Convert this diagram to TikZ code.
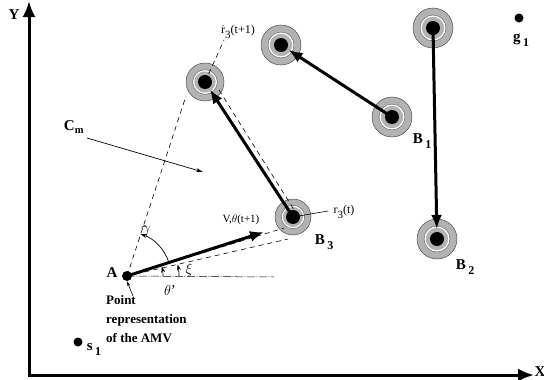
\documentclass[tikz,border=0pt]{standalone}
\usepackage{fontspec}
\setmainfont{Liberation Serif}
\usetikzlibrary{arrows.meta}
\newcommand\obstring[2]{%
  \fill[gray!60] (#1) circle[radius=#2pt];
  \draw[black!70,line width=0.5pt] (#1) circle[radius=#2pt];
  \draw[white,line width=1.3pt] (#1) circle[radius=0.6*#2pt];
  \draw[black!60,line width=0.4pt] (#1) circle[radius=0.65*#2pt];
}
\newcommand\lowsub[1]{\,\raisebox{-5pt}{\fontsize{12}{12}\selectfont #1}}
\newcommand\rsub[1]{\raisebox{-5pt}{\fontsize{11}{11}\selectfont #1}}
\begin{document}
\begin{tikzpicture}[x=1pt,y=-1pt,
  thickarrow/.style={line width=3pt,-{Latex[length=14pt,width=11pt]}},
  axisline/.style={line width=3pt,-{Latex[length=16pt,width=13pt]}},
  dashline/.style={line width=0.6pt,dash pattern=on 5pt off 4pt},
  thinarrow/.style={line width=0.7pt,-{Stealth[length=7pt,width=4pt]}},
  anglearc/.style={line width=0.7pt,-{Stealth[length=6pt,width=4pt]}},
  lbl/.style={font=\bfseries\fontsize{15}{15}\selectfont,inner sep=0pt},
  small/.style={font=\fontsize{12}{12}\selectfont,inner sep=0pt},
  dotnode/.style={circle,fill=black,minimum size=9pt,inner sep=0pt},
  core/.style={circle,fill=black,minimum size=14pt,inner sep=0pt},
]
\useasboundingbox (0,0) rectangle (544,380);
% axes
\coordinate (O) at (29,375);
\coordinate (Ytip) at (29,1);
\coordinate (Xtip) at (534,375);
\draw[axisline] ([yshift=-1.5pt]O) -- (Ytip);
\draw[axisline] ([xshift=-1.5pt]O) -- (Xtip);
\node[lbl] (ylab) at (14,15) {Y};
\node[lbl] (xlab) at (540,372) {X};

% obstacle centres
\coordinate (B1) at (392,117);
\coordinate (B1n) at (281,45);
\coordinate (B2o) at (433,28);
\coordinate (B2) at (437,239);
\coordinate (B3) at (293,217);
\coordinate (B3n) at (205,82);

\obstring{B1}{20}
\obstring{B1n}{20}
\obstring{B2o}{20}
\obstring{B2}{20}
\obstring{B3}{18}
\obstring{B3n}{19}

% agent
\node[dotnode,minimum size=10pt] (A) at (127,276) {};
\coordinate (Vtip) at (264,232);
\coordinate (T1) at (186,96);
\coordinate (T2) at (288,239);
\coordinate (Hend) at (274,277);

% dashed construction lines
\draw[dashline] (A.center) -- (T1);
\draw[dashline] (A.center) -- (T2);
\draw[dashline] (A.center) -- (284,228);
\draw[dashline] (B3n) -- (224,40);
\draw[dashline] (219,90) -- (296,213);
\draw[line width=0.5pt,dash pattern=on 8pt off 1.5pt on 1pt off 1.5pt] (A.center) -- (Hend);
\draw[line width=0.6pt] (B3) -- (328,211);

% motion arrows
\draw[thickarrow,shorten >=9pt] (B1) -- (B1n);
\draw[thickarrow,shorten >=10pt] (B2o) -- (B2);
\draw[thickarrow,shorten >=9pt] (B3) -- (B3n);
\draw[thickarrow] (A.center) -- (Vtip);

% cores
\foreach \c in {B1,B1n,B2o,B2,B3,B3n} \node[core] (core\c) at (\c) {};

% angle arcs (canvas angles: positive = up)
\draw[anglearc] ([shift={(18:44pt)}]A.center) arc[start angle=18,end angle=72,radius=44pt];
\draw[anglearc] ([shift={(0:36pt)}]A.center) arc[start angle=0,end angle=15,radius=36pt];
\draw[anglearc] ([shift={(0:52pt)}]A.center) arc[start angle=0,end angle=13,radius=52pt];

% C_m arrow
\coordinate (Cs) at (87,138);
\coordinate (Ce) at (203,172);
\draw[thinarrow] (Cs) -- (Ce);
\node[lbl,font=\bfseries\fontsize{15}{15}\selectfont] (cm) at (74,127) {C$_{\mathbf{m}}$};

% goal and start
\node[dotnode] (g1) at (519,18) {};
\node[lbl] (g1l) at (521,40) {g\lowsub{1}};
\node[dotnode] (s1) at (78,342) {};
\node[lbl] (s1l) at (94,349) {s\lowsub{1}};

% labels
\node[lbl] (Alab) at (112,273) {A};
\node[lbl] (B1l) at (422,141) {B\lowsub{1}};
\node[lbl] (B2l) at (465,267) {B\lowsub{2}};
\node[lbl] (B3l) at (324,242) {B\lowsub{3}};
\node[small] (r3t) at (344,212) {r\rsub{3}(t)};
\node[small] (r3n) at (238,32) {$\dot{\mathrm{r}}$\rsub{3}(t+1)};
\node[small,font=\fontsize{11}{11}\selectfont] (vlab) at (241,220) {V,$\theta$(t+1)};
\node[lbl,font=\fontsize{17}{17}\selectfont] (gam) at (146,231) {$\gamma$};
\node[lbl,font=\fontsize{15}{15}\selectfont] (th) at (170,290) {$\theta$'};
\node[lbl,font=\fontsize{15}{15}\selectfont] (xi) at (189,270) {$\xi$};

\node[lbl,align=left,anchor=north west,font=\bfseries\fontsize{13}{19}\selectfont] (pr) at (106,295) {Point\\representation\\of the AMV};
\draw[line width=0.6pt,-{Stealth[length=5pt,width=3pt]}] (133,296) -- (A.south);
\end{tikzpicture}
\end{document}
